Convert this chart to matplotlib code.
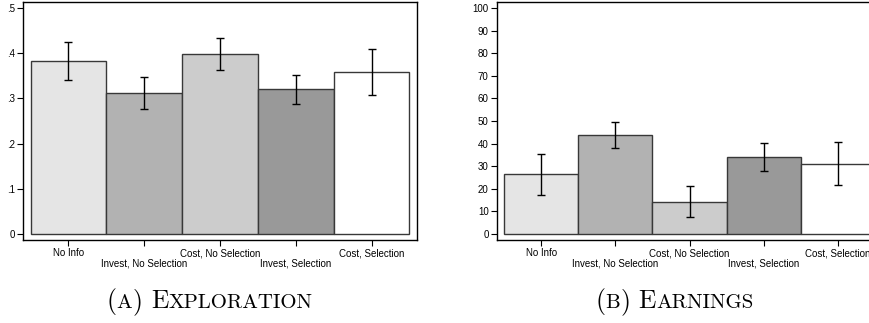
import matplotlib
matplotlib.use("Agg")
import matplotlib.pyplot as plt
from matplotlib.offsetbox import TextArea, HPacker, AnnotationBbox

# data
groups = ["No Info", "Invest, No Selection", "Cost, No Selection",
          "Invest, Selection", "Cost, Selection"]
colors = ["#e5e5e5", "#b2b2b2", "#cccccc", "#999999", "#ffffff"]

exploration = [0.382, 0.312, 0.398, 0.320, 0.359]
exploration_lo = [0.340, 0.277, 0.362, 0.288, 0.308]
exploration_hi = [0.424, 0.347, 0.433, 0.352, 0.409]

earnings = [26.4, 43.8, 14.3, 33.9, 31.1]
earnings_lo = [17.3, 37.9, 7.4, 27.7, 21.5]
earnings_hi = [35.3, 49.7, 21.2, 40.1, 40.6]

expl_ticks = [0, 0.1, 0.2, 0.3, 0.4, 0.5]
expl_ticklabels = ["0", ".1", ".2", ".3", ".4", ".5"]
earn_ticks = list(range(0, 101, 10))

plt.rcParams['font.family'] = ['Liberation Sans', 'DejaVu Sans']

fig = plt.figure(figsize=(8.69, 3.23), dpi=100)
ax1 = fig.add_axes([23 / 869, 1 - 240 / 323, 394 / 869, 238 / 323])
ax2 = fig.add_axes([497 / 869, 1 - 240 / 323, 385 / 869, 238 / 323])


def draw_panel(ax, vals, lo, hi, ylim):
    x = list(range(len(groups)))
    yerr = [[v - l for v, l in zip(vals, lo)], [h - v for v, h in zip(vals, hi)]]
    ax.bar(x, vals, width=1.0, color=colors, edgecolor="#383838", linewidth=1.0, zorder=2)
    ax.errorbar(x, vals, yerr=yerr, fmt="none", ecolor="black", elinewidth=1.0,
                capsize=3, capthick=1.0, zorder=3)
    ax.set_xlim(-0.6, 4.6)
    ax.set_ylim(*ylim)
    ax.set_xticks(x)
    ax.set_xticklabels(groups, fontsize=7)
    ax.tick_params(axis="both", direction="out", length=4, width=0.8, pad=2, labelsize=7)
    # stagger: every second label sits one row lower
    for i, t in enumerate(ax.xaxis.get_major_ticks()):
        if i % 2 == 1:
            t.set_pad(9.5)
    for s in ax.spines.values():
        s.set_linewidth(1.0)
        s.set_color("black")


draw_panel(ax1, exploration, exploration_lo, exploration_hi, (-0.013, 0.513))
ax1.set_yticks(expl_ticks)
ax1.set_yticklabels(expl_ticklabels)

draw_panel(ax2, earnings, earnings_lo, earnings_hi, (-2.65, 102.65))
ax2.set_yticks(earn_ticks)


def smallcaps_caption(parts, x, y):
    boxes = []
    for txt, big in parts:
        size = 18.5 if big else 15
        boxes.append(TextArea(txt, textprops=dict(family="cmr10", size=size, color="black")))
    pack = HPacker(children=boxes, align="baseline", pad=0, sep=0)
    ab = AnnotationBbox(pack, (x, y), xycoords="figure fraction", frameon=False,
                        box_alignment=(0.5, 0.0), pad=0)
    fig.add_artist(ab)


smallcaps_caption([("(", True), ("A", False), (")", True), (" ", True),
                   ("E", True), ("XPLORATION", False)], 0.241, 0.025)
smallcaps_caption([("(", True), ("B", False), (")", True), (" ", True),
                   ("E", True), ("ARNINGS", False)], 0.776, 0.025)

fig.savefig("out.png", dpi=100)
